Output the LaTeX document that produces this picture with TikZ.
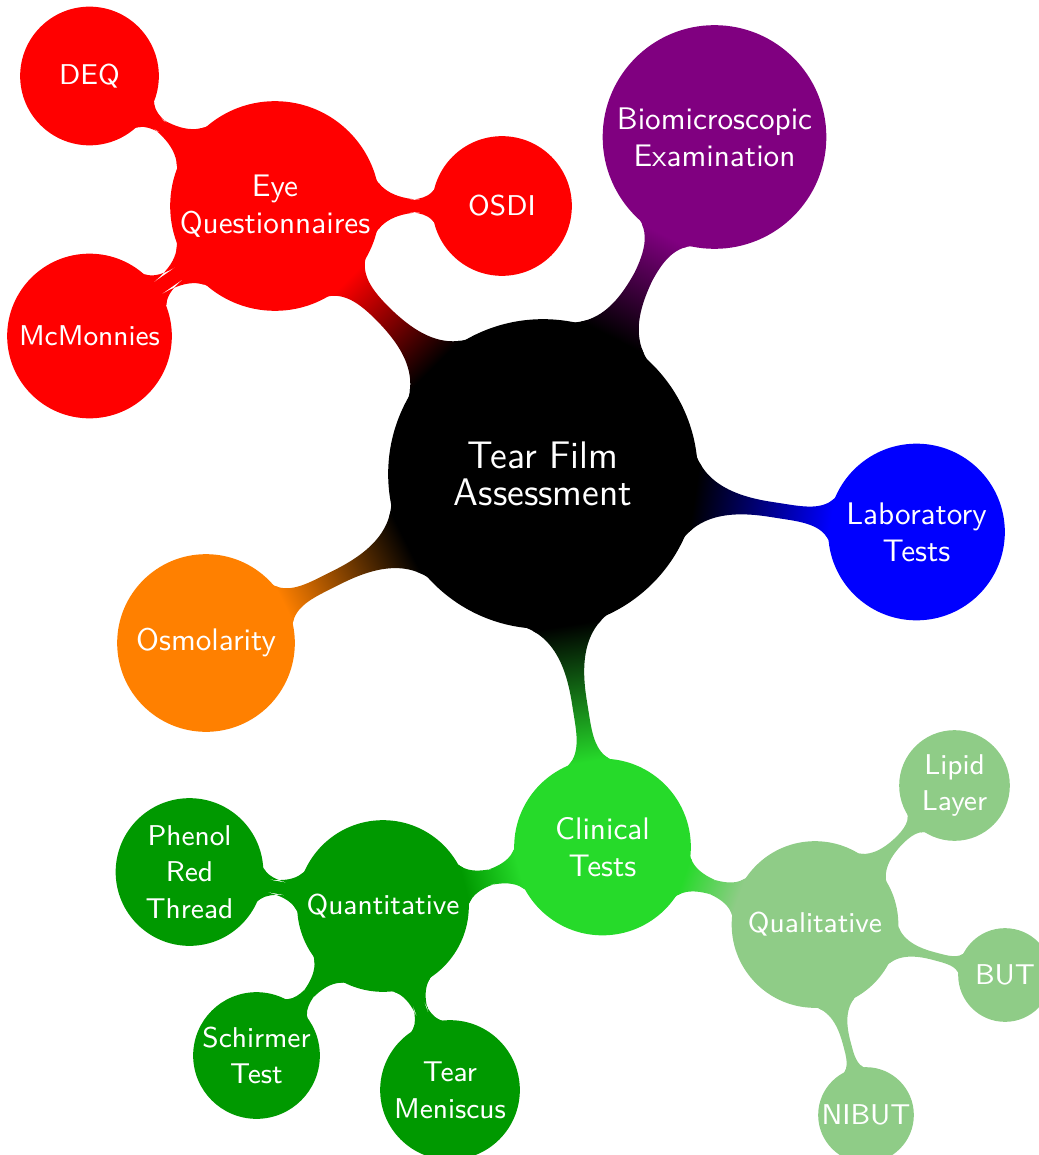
\documentclass[tikz,border=0pt]{standalone}
\usetikzlibrary{mindmap}
\definecolor{cRed}{RGB}{255,0,0}
\definecolor{cViolet}{RGB}{128,0,128}
\definecolor{cBlue}{RGB}{0,0,255}
\definecolor{cOrange}{RGB}{255,128,0}
\definecolor{cClin}{RGB}{38,218,42}
\definecolor{cQuant}{RGB}{0,153,0}
\definecolor{cQual}{RGB}{143,204,135}
\begin{document}
\begin{tikzpicture}[mindmap, x=0.3268pt, y=-0.3268pt,
  cn/.style 2 args={concept, concept color=#2, fill=#2, circle, inner sep=0pt,
    text width={}, align=center, text=white, minimum size=#1*0.3268pt},
  f0/.style={font=\sffamily\fontsize{12.55}{12}\selectfont},
  f1/.style={font=\sffamily\fontsize{10.2}{12}\selectfont},
  f2/.style={font=\sffamily\fontsize{9.35}{12}\selectfont},
]
\useasboundingbox (0,0) rectangle (1039,1155);
% nodes
\node[cn={306}{black}, f0] (root) at (543,474) {Tear Film\\Assessment};
\node[cn={206}{cRed}, f1] (eye) at (275,206) {Eye\\Questionnaires};
\node[cn={135}{cRed}, f2] (deq) at (89.5,76) {DEQ};
\node[cn={136}{cRed}, f2] (osdi) at (502,206) {OSDI};
\node[cn={161}{cRed}, f2] (mcm) at (89.5,336) {McMonnies};
\node[cn={220}{cViolet}, f1] (bio) at (714.5,137) {Biomicroscopic\\Examination};
\node[cn={173}{cBlue}, f1] (lab) at (916.5,532) {Laboratory\\Tests};
\node[cn={174}{cOrange}, f1] (osm) at (206,643) {Osmolarity};
\node[cn={173}{cClin}, f1] (clin) at (602.5,847) {Clinical\\Tests};
\node[cn={168}{cQuant}, f2] (quant) at (383,906) {Quantitative};
\node[cn={144}{cQuant}, f2] (phen) at (189.5,872) {Phenol\\Red\\Thread};
\node[cn={123}{cQuant}, f2] (sch) at (256.5,1055.5) {Schirmer\\Test};
\node[cn={136}{cQuant}, f2] (tear) at (450,1090) {Tear\\Meniscus};
\node[cn={163}{cQual}, f2] (qual) at (815,924.5) {Qualitative};
\node[cn={107}{cQual}, f2] (lipid) at (954.5,785.5) {Lipid\\Layer};
\node[cn={90}{cQual}, f2] (but) at (1005,975) {BUT};
\node[cn={92}{cQual}, f2] (nibut) at (866,1115) {NIBUT};
% connection bars
\path (root) to[circle connection bar switch color=from (black) to (cRed)] (eye);
\path (root) to[circle connection bar switch color=from (black) to (cViolet)] (bio);
\path (root) to[circle connection bar switch color=from (black) to (cBlue)] (lab);
\path (root) to[circle connection bar switch color=from (black) to (cOrange)] (osm);
\path (root) to[circle connection bar switch color=from (black) to (cClin)] (clin);
\path (eye) to[circle connection bar switch color=from (cRed) to (cRed)] (deq);
\path (eye) to[circle connection bar switch color=from (cRed) to (cRed)] (osdi);
\path (eye) to[circle connection bar switch color=from (cRed) to (cRed)] (mcm);
\path (clin) to[circle connection bar switch color=from (cClin) to (cQuant)] (quant);
\path (clin) to[circle connection bar switch color=from (cClin) to (cQual)] (qual);
\path (quant) to[circle connection bar switch color=from (cQuant) to (cQuant)] (phen);
\path (quant) to[circle connection bar switch color=from (cQuant) to (cQuant)] (sch);
\path (quant) to[circle connection bar switch color=from (cQuant) to (cQuant)] (tear);
\path (qual) to[circle connection bar switch color=from (cQual) to (cQual)] (lipid);
\path (qual) to[circle connection bar switch color=from (cQual) to (cQual)] (but);
\path (qual) to[circle connection bar switch color=from (cQual) to (cQual)] (nibut);
\end{tikzpicture}
\end{document}
